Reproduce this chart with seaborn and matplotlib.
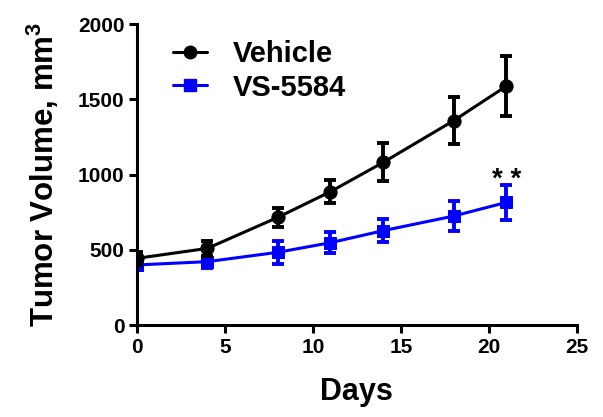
import matplotlib
matplotlib.use("Agg")
import matplotlib.pyplot as plt
import seaborn as sns
import pandas as pd
from matplotlib.lines import Line2D

# Tumor volume (mean ± SEM) over the treatment course
days = [0, 4, 8, 11, 14, 18, 21]
vehicle_mean = [443, 509, 715, 886, 1081, 1358, 1588]
vehicle_sem = [45, 52, 65, 75, 127, 157, 198]
vs5584_mean = [399, 421, 483, 547, 627, 724, 815]
vs5584_sem = [30, 40, 75, 70, 78, 97, 114]
groups = ["Vehicle", "VS-5584"]
colors = {"Vehicle": "#000000", "VS-5584": "#0000ff"}
markers = {"Vehicle": "o", "VS-5584": "s"}
x_ticks = [0, 5, 10, 15, 20, 25]
y_ticks = [0, 500, 1000, 1500, 2000]
significance = "* *"

sns.set_theme(style="ticks")
plt.rcParams["font.family"] = ["Liberation Sans", "DejaVu Sans"]
plt.rcParams["font.weight"] = "bold"
plt.rcParams["text.color"] = "black"
plt.rcParams["axes.labelcolor"] = "black"
plt.rcParams["mathtext.fontset"] = "custom"
plt.rcParams["mathtext.bf"] = "Liberation Sans:bold"
plt.rcParams["mathtext.rm"] = "Liberation Sans:bold"

df = pd.DataFrame({
    "Days": days * 2,
    "Volume": vehicle_mean + vs5584_mean,
    "SEM": vehicle_sem + vs5584_sem,
    "Group": [groups[0]] * len(days) + [groups[1]] * len(days),
})

fig = plt.figure(figsize=(6.03, 4.17), dpi=100)
ax = fig.add_axes([0.227, 0.2206, 0.7297, 0.7218])

# VS-5584 drawn first so the vehicle series sits on top where they overlap
for i, g in enumerate(reversed(groups)):
    sub = df[df["Group"] == g]
    ax.errorbar(sub["Days"], sub["Volume"], yerr=sub["SEM"], fmt="none",
                ecolor=colors[g], elinewidth=2.8, capsize=4.6, capthick=2.8,
                zorder=2 + i)
    sns.lineplot(data=sub, x="Days", y="Volume", color=colors[g],
                 marker=markers[g], markersize=9.5 if g == "Vehicle" else 9,
                 markeredgecolor=colors[g], linewidth=2.2, ax=ax,
                 legend=False, zorder=2.5 + i)

# significance marker just above the final VS-5584 error bar
last = df[df["Group"] == "VS-5584"].iloc[-1]
ax.annotate(significance, xy=(last["Days"], last["Volume"] + last["SEM"]),
            xytext=(0, -1.5), textcoords="offset points",
            ha="center", va="baseline", fontsize=20, fontweight="bold",
            color="black")

ax.set_xlim(0, 25)
ax.set_ylim(0, 2000)
ax.set_xticks(x_ticks)
ax.set_yticks(y_ticks)
ax.tick_params(axis="both", length=6, width=2.2, labelsize=15, pad=3,
               color="black", labelcolor="black")
for lbl in ax.get_xticklabels() + ax.get_yticklabels():
    lbl.set_fontweight("bold")
for side in ["left", "bottom"]:
    ax.spines[side].set_linewidth(2.2)
    ax.spines[side].set_color("black")
sns.despine(ax=ax)

ax.set_xlabel("Days", fontsize=22, fontweight="bold", labelpad=15,
              color="black")
ax.set_ylabel("Tumor Volume, mm$^\\mathbf{3}$", fontsize=22.5,
              fontweight="bold", labelpad=12, color="black")

handles = [Line2D([], [], color=colors[g], marker=markers[g], markersize=9,
                  linewidth=2.2) for g in groups]
leg = ax.legend(handles, groups, loc="upper left",
                bbox_to_anchor=(0.082, 0.947), borderaxespad=0, borderpad=0,
                frameon=False, prop={"size": 21, "weight": "bold"},
                handlelength=1.16, handletextpad=0.9, labelspacing=0.19)
for t in leg.get_texts():
    t.set_color("black")

fig.savefig("out.png", dpi=100)
